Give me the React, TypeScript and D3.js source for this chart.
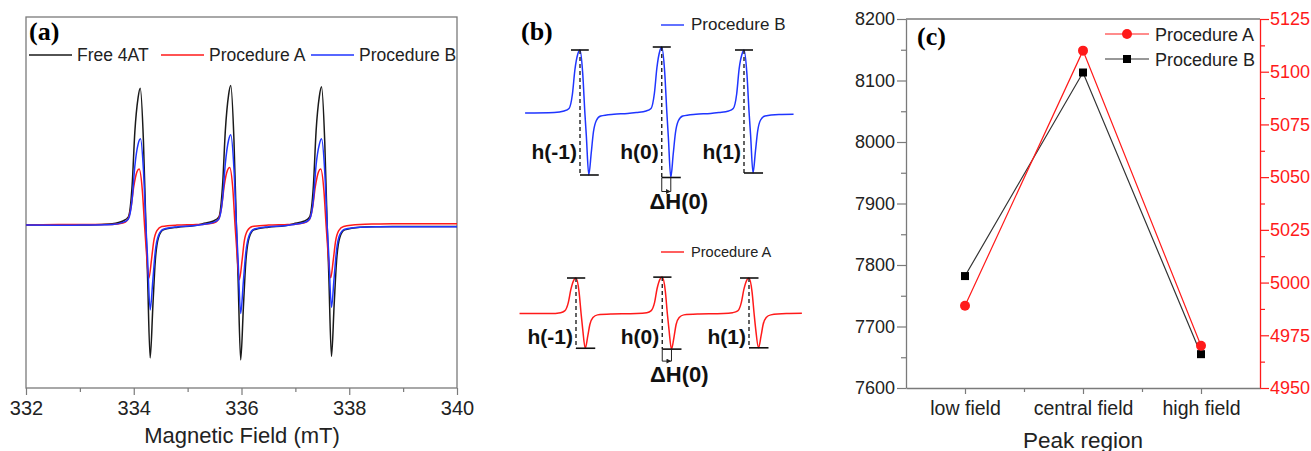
import { useRef, useEffect } from 'react';
import * as d3 from 'd3';

type Pt = [number, number];

// (a) EPR spectra, [field mT, intensity a.u.]
const free4AT: Pt[] = [
  [332.00, 0.00], [332.60, 0.002], [333.00, 0.00], [333.40, 0.005], [333.60, 0.01], [333.80, 0.03],
  [333.90, 0.06], [333.97, 0.29], [334.02, 0.68], [334.08, 0.93], [334.12, 1.00], [334.18, 0.61],
  [334.225, 0.00], [334.255, -0.36], [334.305, -0.97], [334.355, -0.59], [334.40, -0.26], [334.46, -0.09],
  [334.55, -0.035], [334.82, -0.015], [335.10, -0.005],
  [335.28, 0.01], [335.48, 0.03], [335.58, 0.06], [335.65, 0.30], [335.70, 0.69], [335.76, 0.95],
  [335.80, 1.02], [335.86, 0.62], [335.905, 0.00], [335.935, -0.37], [335.985, -0.985], [336.035, -0.60],
  [336.08, -0.27], [336.14, -0.095], [336.23, -0.035], [336.50, -0.015], [336.80, -0.005],
  [336.97, 0.01], [337.17, 0.03], [337.265, 0.06], [337.335, 0.29], [337.385, 0.69], [337.445, 0.94],
  [337.485, 1.01], [337.545, 0.61], [337.59, 0.00], [337.62, -0.36], [337.67, -0.96], [337.72, -0.58],
  [337.765, -0.26], [337.825, -0.09], [337.915, -0.035], [338.20, -0.015], [338.50, -0.012],
  [338.80, -0.01], [339.40, -0.01], [340.00, -0.01],
];

const procedureA: Pt[] = [
  [332.00, 0.00], [332.60, 0.004], [333.00, 0.005], [333.60, 0.005], [333.80, 0.015], [333.88, 0.035],
  [333.95, 0.13], [334.00, 0.28], [334.06, 0.39], [334.10, 0.41], [334.16, 0.25], [334.20, 0.00],
  [334.23, -0.17], [334.28, -0.39], [334.33, -0.25], [334.37, -0.12], [334.43, -0.04], [334.52, -0.01],
  [334.80, 0.00], [335.10, 0.003],
  [335.28, 0.005], [335.48, 0.015], [335.56, 0.035], [335.63, 0.13], [335.68, 0.29], [335.74, 0.40],
  [335.78, 0.42], [335.84, 0.26], [335.88, 0.00], [335.91, -0.17], [335.96, -0.40], [336.01, -0.26],
  [336.05, -0.12], [336.11, -0.04], [336.20, -0.01], [336.50, 0.00], [336.80, 0.003],
  [336.97, 0.005], [337.15, 0.015], [337.25, 0.035], [337.32, 0.13], [337.37, 0.28], [337.43, 0.39],
  [337.47, 0.41], [337.53, 0.25], [337.57, 0.00], [337.60, -0.17], [337.655, -0.385], [337.705, -0.25],
  [337.745, -0.12], [337.805, -0.04], [337.895, -0.01], [338.20, 0.005], [338.50, 0.008],
  [338.80, 0.01], [339.40, 0.01], [340.00, 0.01],
];

const procedureB: Pt[] = [
  [332.00, 0.00], [332.60, -0.002], [333.00, 0.00], [333.60, 0.005], [333.80, 0.02], [333.90, 0.045],
  [333.97, 0.19], [334.02, 0.43], [334.08, 0.59], [334.125, 0.63], [334.18, 0.40], [334.225, 0.00],
  [334.255, -0.23], [334.305, -0.62], [334.355, -0.40], [334.40, -0.19], [334.46, -0.075], [334.55, -0.03],
  [334.82, -0.012], [335.10, -0.005],
  [335.28, 0.005], [335.48, 0.02], [335.58, 0.045], [335.65, 0.20], [335.70, 0.45], [335.76, 0.62],
  [335.80, 0.66], [335.86, 0.41], [335.905, 0.00], [335.935, -0.24], [335.985, -0.645], [336.035, -0.41],
  [336.08, -0.20], [336.14, -0.078], [336.23, -0.03], [336.50, -0.012], [336.80, -0.005],
  [336.97, 0.005], [337.17, 0.02], [337.265, 0.045], [337.335, 0.19], [337.385, 0.44], [337.445, 0.59],
  [337.485, 0.63], [337.545, 0.39], [337.59, 0.00], [337.62, -0.22], [337.67, -0.60], [337.72, -0.38],
  [337.765, -0.18], [337.825, -0.07], [337.915, -0.03], [338.20, -0.015], [338.50, -0.012],
  [338.80, -0.012], [339.40, -0.012], [340.00, -0.012],
];

const fieldTicks = [332, 334, 336, 338, 340];
const fieldMinorTicks = [333, 335, 337, 339];

// (b) line labels
const hLabels = ['h(-1)', 'h(0)', 'h(1)'];
const featureWindows: [number, number][] = [[333.5, 335.0], [335.0, 336.6], [336.6, 338.5]];

// (c) peak heights
const peakRegions = ['low field', 'central field', 'high field'];
const peakProcA = [4989, 5110, 4970];
const peakProcB = [7782, 8113, 7655];
const leftTicks = [7600, 7700, 7800, 7900, 8000, 8100, 8200];
const leftMinor = [7650, 7750, 7850, 7950, 8050, 8150];
const rightTicks = [4950, 4975, 5000, 5025, 5050, 5075, 5100, 5125];
const rightMinor = [4962.5, 4987.5, 5012.5, 5037.5, 5062.5, 5087.5, 5112.5];

const SANS = "'Liberation Sans', Arial, sans-serif";
const SERIF = "'Liberation Serif', 'Times New Roman', serif";
const AXIS = '#7a7a7a';
const RED = '#ff1a1a';
const BLUE = '#1f35ff';
const BLACK = '#1a1a1a';

export default function App() {
  const svgRef = useRef<SVGSVGElement>(null);

  useEffect(() => {
    const svg = d3.select(svgRef.current).html('');

    // ---------- panel (a) ----------
    const xa = d3.scaleLinear().domain([332, 340]).range([26, 457]);
    const ya = d3.scaleLinear().domain([-1.19, 1.52]).range([388, 17]);
    const lineA = d3.line<Pt>().x(d => xa(d[0])).y(d => ya(d[1])).curve(d3.curveMonotoneX);

    const ga = svg.append('g');
    ga.append('rect')
      .attr('x', 26).attr('y', 17).attr('width', 431).attr('height', 371)
      .attr('fill', 'none').attr('stroke', AXIS).attr('stroke-width', 1.3);

    const axA = ga.append('g').attr('transform', 'translate(0,388)')
      .call(d3.axisBottom(xa).tickValues(fieldTicks).tickSize(7).tickSizeOuter(0).tickPadding(6)
        .tickFormat(d3.format('d')));
    axA.select('.domain').remove();
    axA.selectAll('line').attr('stroke', AXIS).attr('stroke-width', 1.2);
    axA.selectAll('text').attr('font-family', SANS).attr('font-size', 20).attr('fill', '#222');
    const axAm = ga.append('g').attr('transform', 'translate(0,388)')
      .call(d3.axisBottom(xa).tickValues(fieldMinorTicks).tickSize(4).tickFormat(() => ''));
    axAm.select('.domain').remove();
    axAm.selectAll('line').attr('stroke', AXIS).attr('stroke-width', 1.2);

    ga.append('text').attr('x', 242).attr('y', 443).attr('text-anchor', 'middle')
      .attr('font-family', SANS).attr('font-size', 22).attr('fill', '#222')
      .text('Magnetic Field (mT)');

    [[free4AT, BLACK], [procedureA, RED], [procedureB, BLUE]].forEach(([data, color]) => {
      ga.append('path').datum(data as Pt[])
        .attr('fill', 'none').attr('stroke', color as string).attr('stroke-width', 1.5)
        .attr('d', lineA);
    });

    ga.append('text').attr('x', 29).attr('y', 40)
      .attr('font-family', SERIF).attr('font-weight', 'bold').attr('font-size', 26)
      .text('(a)');

    const legA = [
      { label: 'Free 4AT', color: BLACK, x: 29 },
      { label: 'Procedure A', color: RED, x: 161 },
      { label: 'Procedure B', color: BLUE, x: 311 },
    ];
    legA.forEach(l => {
      ga.append('line').attr('x1', l.x).attr('x2', l.x + 43).attr('y1', 55).attr('y2', 55)
        .attr('stroke', l.color).attr('stroke-width', 1.3);
      ga.append('text').attr('x', l.x + 48).attr('y', 61)
        .attr('font-family', SANS).attr('font-size', 17.5).attr('fill', '#222').text(l.label);
    });

    // ---------- panel (b) ----------
    const gb = svg.append('g');
    gb.append('text').attr('x', 521).attr('y', 40)
      .attr('font-family', SERIF).attr('font-weight', 'bold').attr('font-size', 26)
      .text('(b)');

    const traces = [
      {
        data: procedureB, color: BLUE, label: 'Procedure B',
        x: d3.scaleLinear().domain([334.125, 337.485]).range([580, 744]),
        y: d3.scaleLinear().domain([0, 0.63]).range([113, 50]),
        legY: 25, legSize: 17, hBase: 159, dhGap: 31, brGap: 14,
      },
      {
        data: procedureA, color: RED, label: 'Procedure A',
        x: d3.scaleLinear().domain([334.10, 337.47]).range([576, 749]),
        y: d3.scaleLinear().domain([0, 0.41]).range([314, 278]),
        legY: 252, legSize: 14.6, hBase: 344, dhGap: 33, brGap: 12,
      },
    ];

    const defs = svg.append('defs');
    defs.append('marker').attr('id', 'arr').attr('viewBox', '0 0 6 6')
      .attr('refX', 6).attr('refY', 3).attr('markerWidth', 5).attr('markerHeight', 5)
      .attr('orient', 'auto')
      .append('path').attr('d', 'M0,0 L6,3 L0,6 Z').attr('fill', '#222');

    traces.forEach(t => {
      const clipped = t.data.filter(d => d[0] >= 332.95 && d[0] <= 338.55);
      const ln = d3.line<Pt>().x(d => t.x(d[0])).y(d => t.y(d[1])).curve(d3.curveMonotoneX);
      gb.append('path').datum(clipped)
        .attr('fill', 'none').attr('stroke', t.color).attr('stroke-width', 1.5).attr('d', ln);

      gb.append('line').attr('x1', 661).attr('x2', 684).attr('y1', t.legY).attr('y2', t.legY)
        .attr('stroke', t.color).attr('stroke-width', 1.4);
      gb.append('text').attr('x', 691).attr('y', t.legY + 5)
        .attr('font-family', SANS).attr('font-size', t.legSize).attr('fill', '#222').text(t.label);

      featureWindows.forEach(([lo, hi], i) => {
        const seg = t.data.filter(d => d[0] >= lo && d[0] < hi);
        const pk = seg.reduce((a, b) => (b[1] > a[1] ? b : a));
        const tr = seg.reduce((a, b) => (b[1] < a[1] ? b : a));
        const px = t.x(pk[0]), py = t.y(pk[1]);
        const tx = t.x(tr[0]), ty = t.y(tr[1]);

        gb.append('line').attr('x1', px - 9).attr('x2', tx).attr('y1', py).attr('y2', py)
          .attr('stroke', '#111').attr('stroke-width', 1.6);
        gb.append('line').attr('x1', px).attr('x2', tx + 10).attr('y1', ty).attr('y2', ty)
          .attr('stroke', '#111').attr('stroke-width', 1.6);
        gb.append('line').attr('x1', px).attr('x2', px).attr('y1', py).attr('y2', ty)
          .attr('stroke', '#111').attr('stroke-width', 1.3).attr('stroke-dasharray', '4,3');

        gb.append('text').attr('x', px - 3).attr('y', t.hBase).attr('text-anchor', 'end')
          .attr('font-family', SANS).attr('font-weight', 'bold').attr('font-size', 21)
          .attr('fill', '#111').text(hLabels[i]);

        if (i === 1) {
          const by = ty + t.brGap;
          gb.append('path').attr('d', `M${px},${ty} V${by}`).attr('stroke', '#222').attr('fill', 'none');
          gb.append('path').attr('d', `M${tx},${ty} V${by}`).attr('stroke', '#222').attr('fill', 'none');
          gb.append('line').attr('x1', px).attr('x2', tx).attr('y1', by).attr('y2', by)
            .attr('stroke', '#222').attr('marker-end', 'url(#arr)');
          gb.append('text').attr('x', px + 17).attr('y', ty + t.dhGap).attr('text-anchor', 'middle')
            .attr('font-family', SANS).attr('font-weight', 'bold').attr('font-size', 22)
            .attr('fill', '#111').text('ΔH(0)');
        }
      });
    });

    // ---------- panel (c) ----------
    const gc = svg.append('g');
    const xc = d3.scaleLinear().domain([0.5, 3.5]).range([906, 1260]);
    const yl = d3.scaleLinear().domain([7600, 8200]).range([388, 19]);
    const yr = d3.scaleLinear().domain([4950, 5125]).range([388, 19]);

    gc.append('line').attr('x1', 906).attr('x2', 1260).attr('y1', 19).attr('y2', 19)
      .attr('stroke', AXIS).attr('stroke-width', 1.3);

    const styleAxis = (g: any, color: string, fs: number) => {
      g.select('.domain').attr('stroke', color).attr('stroke-width', 1.3);
      g.selectAll('line').attr('stroke', color).attr('stroke-width', 1.2);
      g.selectAll('text').attr('font-family', SANS).attr('font-size', fs);
    };

    const axL = gc.append('g').attr('transform', 'translate(906,0)')
      .call(d3.axisLeft(yl).tickValues(leftTicks).tickSize(9).tickSizeOuter(0).tickPadding(2)
        .tickFormat(d3.format('d')));
    styleAxis(axL, AXIS, 18);
    axL.selectAll('text').attr('fill', '#222');
    const axLm = gc.append('g').attr('transform', 'translate(906,0)')
      .call(d3.axisLeft(yl).tickValues(leftMinor).tickSize(5).tickFormat(() => ''));
    axLm.select('.domain').remove();
    axLm.selectAll('line').attr('stroke', AXIS).attr('stroke-width', 1.2);

    const axR = gc.append('g').attr('transform', 'translate(1260,0)')
      .call(d3.axisRight(yr).tickValues(rightTicks).tickSize(9).tickSizeOuter(0).tickPadding(1)
        .tickFormat(d3.format('d')));
    styleAxis(axR, RED, 18);
    axR.selectAll('text').attr('fill', RED);
    const axRm = gc.append('g').attr('transform', 'translate(1260,0)')
      .call(d3.axisRight(yr).tickValues(rightMinor).tickSize(5).tickFormat(() => ''));
    axRm.select('.domain').remove();
    axRm.selectAll('line').attr('stroke', RED).attr('stroke-width', 1.2);

    const axB = gc.append('g').attr('transform', 'translate(0,388)')
      .call(d3.axisBottom(xc).tickValues([1, 2, 3]).tickSize(6).tickSizeOuter(0).tickPadding(7)
        .tickFormat((d: any) => peakRegions[Math.round(d) - 1]));
    styleAxis(axB, AXIS, 19.5);
    axB.selectAll('text').attr('fill', '#222');
    const axBm = gc.append('g').attr('transform', 'translate(0,388)')
      .call(d3.axisBottom(xc).tickValues([1.5, 2.5]).tickSize(4).tickFormat(() => ''));
    axBm.select('.domain').remove();
    axBm.selectAll('line').attr('stroke', AXIS).attr('stroke-width', 1.2);

    gc.append('text').attr('x', 1083).attr('y', 448).attr('text-anchor', 'middle')
      .attr('font-family', SANS).attr('font-size', 22.5).attr('fill', '#222').text('Peak region');

    const lineB = d3.line<number>().x((_, i) => xc(i + 1)).y(d => yl(d));
    const lineAc = d3.line<number>().x((_, i) => xc(i + 1)).y(d => yr(d));
    gc.append('path').datum(peakProcB).attr('fill', 'none').attr('stroke', '#333')
      .attr('stroke-width', 1.2).attr('d', lineB);
    gc.append('path').datum(peakProcA).attr('fill', 'none').attr('stroke', RED)
      .attr('stroke-width', 1.2).attr('d', lineAc);
    gc.selectAll('.sq').data(peakProcB).enter().append('rect')
      .attr('x', (_, i) => xc(i + 1) - 4).attr('y', d => yl(d) - 4)
      .attr('width', 8).attr('height', 8).attr('fill', '#000');
    gc.selectAll('.ci').data(peakProcA).enter().append('circle')
      .attr('cx', (_, i) => xc(i + 1)).attr('cy', d => yr(d)).attr('r', 5).attr('fill', RED);

    gc.append('text').attr('x', 917).attr('y', 45)
      .attr('font-family', SERIF).attr('font-weight', 'bold').attr('font-size', 26)
      .text('(c)');

    // legend (c)
    gc.append('line').attr('x1', 1105).attr('x2', 1149).attr('y1', 34).attr('y2', 34)
      .attr('stroke', RED).attr('stroke-width', 1.2);
    gc.append('circle').attr('cx', 1127).attr('cy', 34).attr('r', 5).attr('fill', RED);
    gc.append('text').attr('x', 1155).attr('y', 41).attr('font-family', SANS).attr('font-size', 18)
      .attr('fill', '#222').text('Procedure A');
    gc.append('line').attr('x1', 1105).attr('x2', 1149).attr('y1', 59).attr('y2', 59)
      .attr('stroke', '#333').attr('stroke-width', 1.2);
    gc.append('rect').attr('x', 1123).attr('y', 55).attr('width', 8).attr('height', 8).attr('fill', '#000');
    gc.append('text').attr('x', 1155).attr('y', 66).attr('font-family', SANS).attr('font-size', 18)
      .attr('fill', '#222').text('Procedure B');
  }, []);

  return (
    <svg
      ref={svgRef}
      width={1311}
      height={451}
      style={{ position: 'absolute', left: 0, top: 0, background: '#fff' }}
    />
  );
}
